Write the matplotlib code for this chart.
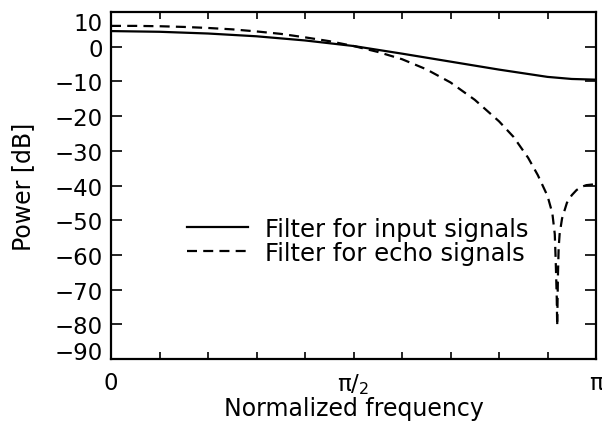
import numpy as np
import matplotlib
matplotlib.use("Agg")
import matplotlib.pyplot as plt
from matplotlib.ticker import FixedLocator

# x in units of pi
x_input = [0.00, 0.10, 0.20, 0.30, 0.40, 0.50, 0.60, 0.70, 0.80, 0.90, 0.95, 1.00]
p_input = [4.5, 4.3, 3.8, 3.0, 1.8, 0.2, -2.0, -4.3, -6.6, -8.7, -9.3, -9.5]

x_echo = [0.00, 0.05, 0.10, 0.15, 0.20, 0.25, 0.30, 0.35, 0.40, 0.45, 0.50, 0.55,
          0.60, 0.65, 0.70, 0.75, 0.80, 0.83, 0.86, 0.88, 0.90, 0.91, 0.915,
          0.917, 0.919, 0.920, 0.9215, 0.923, 0.925, 0.93, 0.94, 0.95, 0.96,
          0.97, 0.98, 1.00]
p_echo = [6.0, 6.0, 5.9, 5.7, 5.4, 5.0, 4.4, 3.7, 2.7, 1.6, 0.2, -1.5,
          -3.6, -6.5, -10.3, -15.3, -21.5, -26.0, -32.0, -37.0, -43.0, -48.0, -54.0,
          -62.0, -72.0, -80.5, -66.0, -58.0, -54.0, -49.5, -45.0, -42.8, -41.3,
          -40.4, -39.9, -39.6]

labels = ["Filter for input signals", "Filter for echo signals"]
xtick_vals = [0.0, 0.5, 1.0]
xtick_labels = ["0", "π/$_{2}$", "π"]
ytick_vals = list(range(-90, 11, 10))

plt.rcParams["font.family"] = ["DejaVu Sans"]
plt.rcParams["mathtext.fontset"] = "dejavusans"
fig = plt.figure(figsize=(6.02, 4.27), dpi=100)
ax = fig.add_axes([111/602, 1-360/427, (596-111)/602, (360-13)/427])

ax.plot(np.array(x_input)*np.pi, p_input, color="black", lw=1.6, label=labels[0])
ax.plot(np.array(x_echo)*np.pi, p_echo, color="black", lw=1.6,
        dashes=(4.5, 2.8), label=labels[1])

ax.set_xlim(0, np.pi)
ax.set_ylim(-90, 10)

ax.xaxis.set_major_locator(FixedLocator(np.array(xtick_vals)*np.pi))
ax.xaxis.set_minor_locator(FixedLocator(np.arange(1, 10)*np.pi/10))
ax.set_xticklabels(xtick_labels)
ax.set_yticks(ytick_vals)
ax.set_yticklabels([("\u2212%d" % -v) if v < 0 else str(v) for v in ytick_vals])

ax.tick_params(axis="both", which="both", direction="in", top=True, right=True,
               width=1.2, labelsize=16.5)
ax.tick_params(axis="y", which="major", length=8, pad=6)
ax.tick_params(axis="x", which="major", length=5, pad=9)
ax.tick_params(axis="x", which="minor", length=5)

for s in ax.spines.values():
    s.set_linewidth(1.6)

ylabs = ax.get_yticklabels()
ylabs[-1].set_va("top")
ylabs[0].set_va("baseline")

ax.set_xlabel("Normalized frequency", fontsize=17, labelpad=0)
ax.set_ylabel("Power [dB]", fontsize=17, labelpad=14)

leg = ax.legend(loc="center left", bbox_to_anchor=(0.157, 0.341), frameon=False,
                fontsize=17.5, handlelength=2.5, handletextpad=0.7,
                labelspacing=0.0, borderpad=0, borderaxespad=0)

fig.savefig("out.png", dpi=100)
